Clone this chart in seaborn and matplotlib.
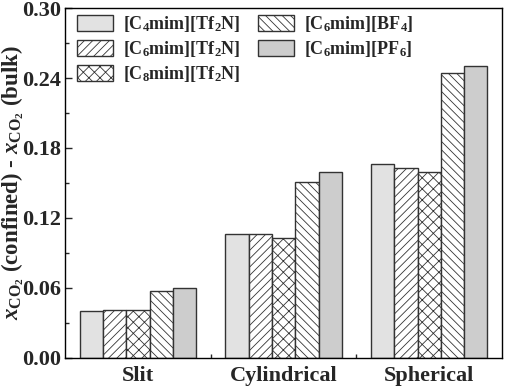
import matplotlib
matplotlib.use("Agg")
import matplotlib.pyplot as plt
import seaborn as sns
import pandas as pd
from matplotlib.patches import Patch
from matplotlib.ticker import MultipleLocator, FixedLocator

categories = ["Slit", "Cylindrical", "Spherical"]
liquids = ["[C$_\\mathrm{4}$mim][Tf$_\\mathrm{2}$N]",
           "[C$_\\mathrm{6}$mim][Tf$_\\mathrm{2}$N]",
           "[C$_\\mathrm{8}$mim][Tf$_\\mathrm{2}$N]",
           "[C$_\\mathrm{6}$mim][BF$_\\mathrm{4}$]",
           "[C$_\\mathrm{6}$mim][PF$_\\mathrm{6}$]"]
c4_tf2n = [0.0403, 0.106, 0.166]
c6_tf2n = [0.0410, 0.106, 0.163]
c8_tf2n = [0.0410, 0.103, 0.159]
c6_bf4 = [0.0570, 0.1505, 0.244]
c6_pf6 = [0.0600, 0.1590, 0.250]
yticks = [0.00, 0.06, 0.12, 0.18, 0.24, 0.30]

sns.set_theme(style="ticks")
plt.rcParams['font.family'] = ['Liberation Serif', 'DejaVu Serif']
plt.rcParams['font.weight'] = 'bold'
plt.rcParams['mathtext.fontset'] = 'custom'
plt.rcParams['mathtext.rm'] = 'Liberation Serif:weight=bold'
plt.rcParams['mathtext.it'] = 'Liberation Serif:style=italic:weight=bold'
plt.rcParams['mathtext.bf'] = 'Liberation Serif:weight=bold'
plt.rcParams['hatch.linewidth'] = 0.6

rows = []
for lab, vals in zip(liquids, [c4_tf2n, c6_tf2n, c8_tf2n, c6_bf4, c6_pf6]):
    for cat, v in zip(categories, vals):
        rows.append({"cat": cat, "liq": lab, "val": v})
df = pd.DataFrame(rows)

fig = plt.figure(figsize=(5.05, 3.86), dpi=100)
ax = fig.add_axes([0.129, 0.073, 0.865, 0.906])
sns.barplot(data=df, x="cat", y="val", hue="liq", order=categories,
            hue_order=liquids, width=0.8, ax=ax, legend=False,
            saturation=1)

styles = [("#e2e2e2", ""), ("white", "////"), ("white", "xxx"),
          ("white", "\\\\\\\\"), ("#cdcdcd", "")]
edge = "#333333"
handles = []
for cont, (fc, h), lab in zip(ax.containers, styles, liquids):
    for p in cont:
        p.set_facecolor(fc)
        p.set_hatch(h)
        p.set_edgecolor(edge)
        p.set_linewidth(1.0)
    handles.append(Patch(facecolor=fc, hatch=h, edgecolor=edge, linewidth=1.0, label=lab))

ax.set_xlim(-0.5, 2.5)
ax.set_ylim(0, 0.30)
ax.set_yticks(yticks)
ax.set_yticklabels([f"{t:.2f}" for t in yticks])
ax.yaxis.set_minor_locator(MultipleLocator(0.03))
ax.xaxis.set_minor_locator(FixedLocator([0.5, 1.5]))
ax.tick_params(axis='both', which='both', direction='in', labelsize=16)
ax.tick_params(axis='both', which='major', length=5, width=1)
ax.tick_params(axis='both', which='minor', length=3, width=1)
ax.tick_params(axis='y', which='major', pad=3)
ax.tick_params(axis='x', which='major', pad=6)
for lbl in ax.get_xticklabels() + ax.get_yticklabels():
    lbl.set_fontweight('bold')
ax.set_xlabel("")
ax.set_ylabel("$x_{\\mathrm{CO_2}}$ (confined) - $x_{\\mathrm{CO_2}}$ (bulk)",
              fontsize=16.5, fontweight='bold')
ax.yaxis.set_label_coords(-0.09, 0.5)
for s in ax.spines.values():
    s.set_linewidth(1.0)
    s.set_color('black')

ax.legend(handles=handles, loc='upper left', ncol=2, frameon=False,
          handlelength=2.0, handleheight=1.0,
          columnspacing=0.95, labelspacing=0.28, handletextpad=0.55,
          borderaxespad=0.0, borderpad=0.0,
          bbox_to_anchor=(12 / 437, 1 - 6 / 350),
          prop={'weight': 'bold', 'size': 13})

fig.savefig("out.png", dpi=100)
